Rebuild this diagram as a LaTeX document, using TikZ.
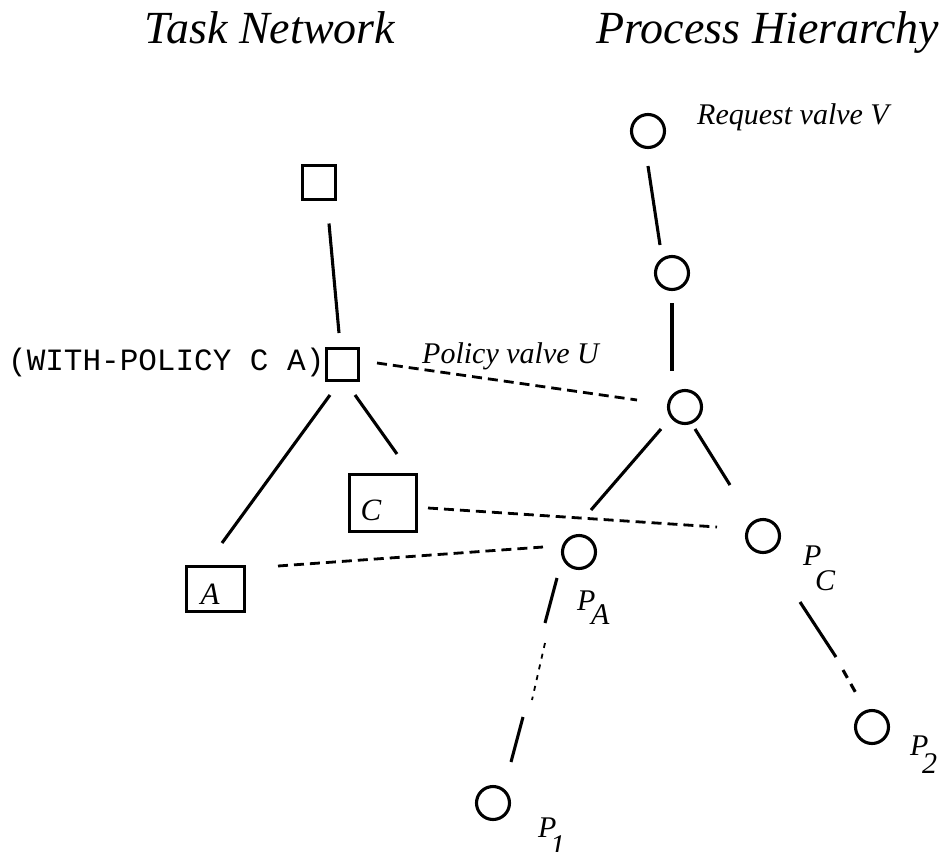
\documentclass[tikz,border=0pt]{standalone}
\usepackage{fontspec}
\setmainfont{Liberation Serif}
\setmonofont{Liberation Mono}
\usetikzlibrary{calc}
\newcommand{\subl}[3]{P\kern#1pt\raisebox{-#2pt}{#3}}
\begin{document}
\begin{tikzpicture}[x=1pt,y=-1pt,
  box/.style={draw,line width=3.1pt,inner sep=0pt},
  proc/.style={draw,circle,line width=3.1pt,minimum size=33pt,inner sep=0pt},
  link/.style={line width=3.1pt},
  dashlink/.style={line width=2.8pt,dash pattern=on 10pt off 6pt},
  dotlink/.style={line width=1.8pt,dash pattern=on 5pt off 6pt},
  title/.style={font=\fontsize{46}{50}\selectfont\itshape,anchor=base,inner sep=0pt},
  lbl/.style={font=\fontsize{30}{36}\selectfont\itshape,anchor=base west,inner sep=0pt}]
\useasboundingbox (0,0) rectangle (946,852);
% titles
\node[title] (t1) at (270,43) {Task Network};
\node[title] (t2) at (768,43) {Process Hierarchy};
% task network
\node[box,minimum width=33pt,minimum height=34pt] (top) at (319,182.5) {};
\node[box,minimum width=32pt,minimum height=32pt] (wp) at (342.5,364.5) {};
\node[box,minimum width=67pt,minimum height=57pt] (c) at (383,503) {};
\node[box,minimum width=58pt,minimum height=45pt] (a) at (215.5,589) {};
\node[font=\fontsize{31}{36}\selectfont\itshape,inner sep=0pt] (cl) at (371,510) {C};
\node[font=\fontsize{31}{36}\selectfont\itshape,inner sep=0pt] (al) at (210,594) {A};
\node[font=\fontsize{31}{36}\selectfont\ttfamily,anchor=base west,inner sep=0pt] (wpl) at (8,370) {(WITH-POLICY C A)};
% process hierarchy
\node[proc] (c1) at (648,131) {};
\node[proc] (c2) at (672,273) {};
\node[proc] (c3) at (685,407) {};
\node[proc] (pa) at (579,552) {};
\node[proc] (pc) at (763,536) {};
\node[proc] (p2) at (872,727) {};
\node[proc] (p1) at (493,803) {};
\node[lbl] (rv) at (697,124) {Request valve V};
\node[lbl] (pv) at (422,363) {Policy valve U};
\node[lbl] (pal) at (577,610) {\subl{-4.3}{14}{A}};
\node[lbl] (pcl) at (803,565) {\subl{-6.3}{25}{C}};
\node[lbl] (p2l) at (910,755) {\subl{-6.3}{18}{2}};
\node[lbl] (p1l) at (538,837) {\subl{-6.3}{18}{1}};
% task network connectors
\draw[link] ($(top)+(10,41)$) -- ($(wp)+(-3.5,-31.5)$);
\draw[link] ($(wp)+(-12.5,30.5)$) -- ($(a)+(6.5,-46)$);
\draw[link] ($(wp)+(12.5,30.5)$) -- ($(c)+(14,-49)$);
% hierarchy connectors
\draw[link] ($(c1)+(0,35)$) -- ($(c2)+(-12,-28)$);
\draw[link] ($(c2)+(0,30)$) -- ($(c3)+(-13,-36)$);
\draw[link] ($(c3)+(-24,22)$) -- ($(pa)+(12,-42)$);
\draw[link] ($(c3)+(10,22)$) -- ($(pc)+(-33,-51)$);
\draw[link] ($(pa)+(-22,26)$) -- ($(p1)+(52,-180)$);
\draw[dotlink] ($(p1)+(52,-160)$) -- ($(p1)+(39,-103)$);
\draw[link] ($(p1)+(30,-86)$) -- ($(p1)+(18,-41)$);
\draw[link] ($(pc)+(37,66)$) -- ($(p2)+(-36,-70)$);
\draw[link,dash pattern=on 9pt off 7pt] ($(p2)+(-29,-57)$) -- ($(p2)+(-15,-32)$);
% correspondence (dashed)
\draw[dashlink] ($(wp)+(34.5,-1.5)$) -- ($(c3)+(-48,-7)$);
\draw[dashlink] ($(c)+(45,5)$) -- ($(pc)+(-46,-9)$);
\draw[dashlink] ($(a)+(62.5,-23)$) -- ($(pa)+(-36,-5)$);
\end{tikzpicture}
\end{document}
